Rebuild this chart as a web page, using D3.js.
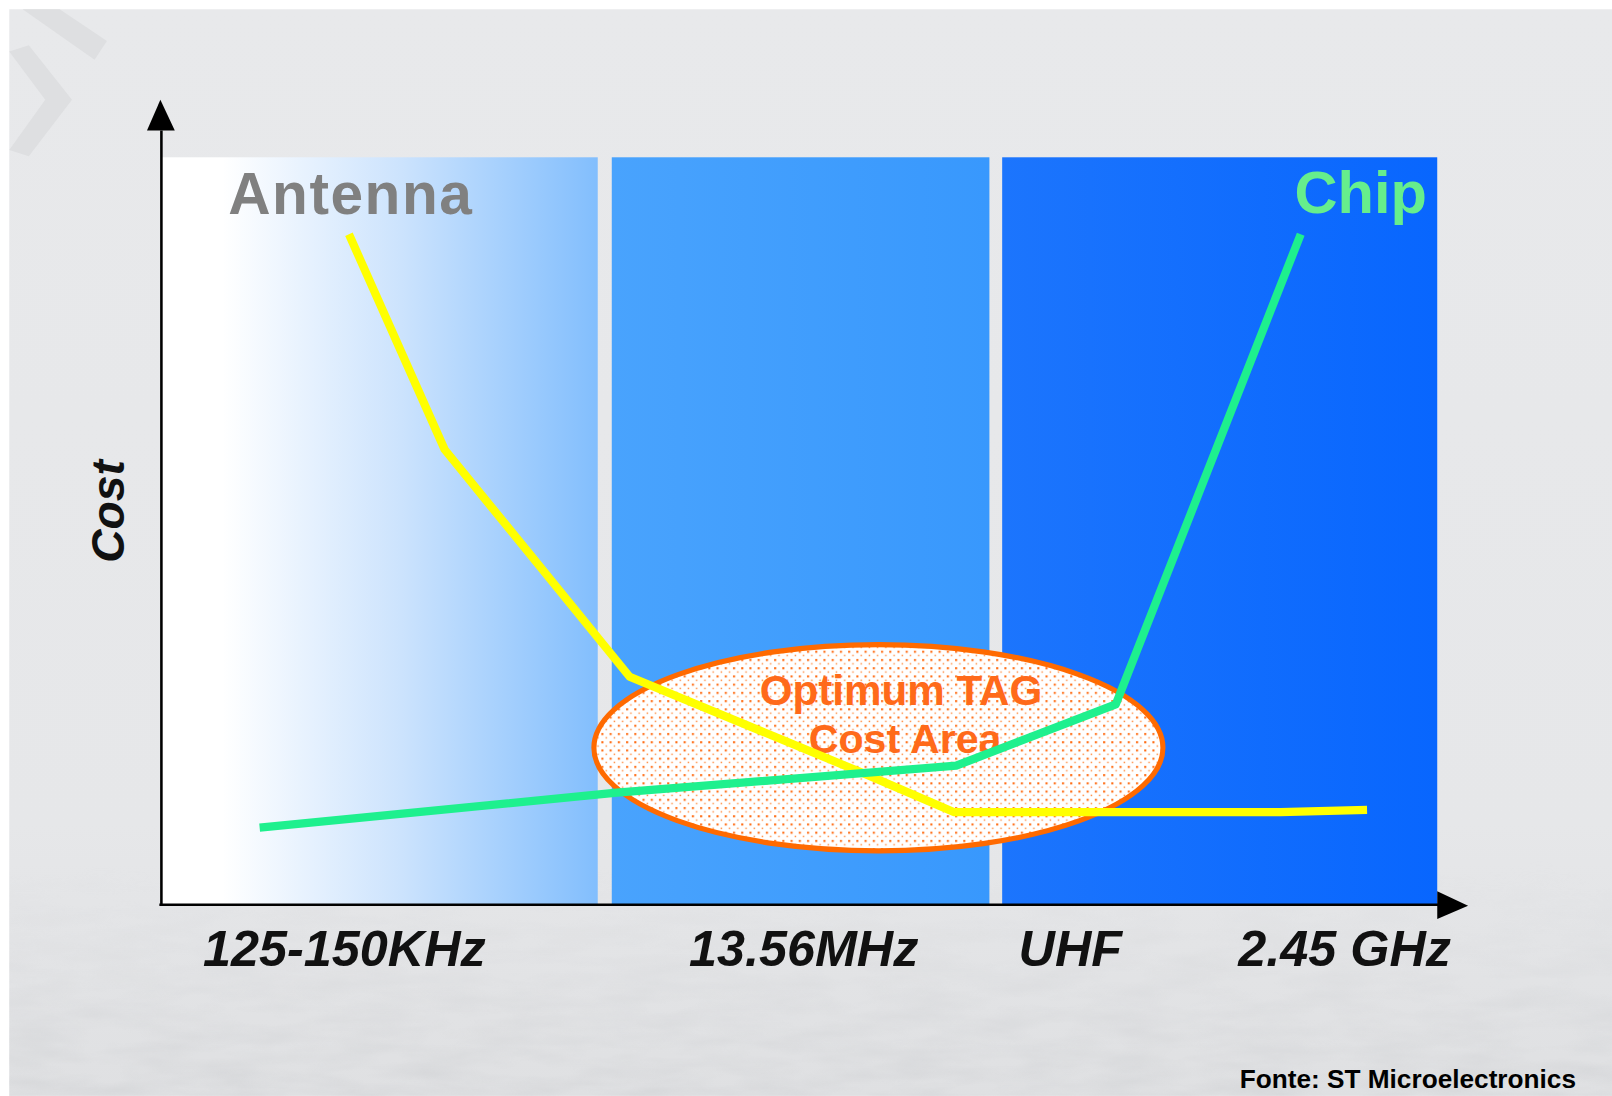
<!DOCTYPE html>
<html>
<head>
<meta charset="utf-8">
<script src="https://cdn.jsdelivr.net/npm/d3@7"></script>
<style>
  body { margin: 0; background: #ffffff; }
  text { font-family: "Liberation Sans", Arial, sans-serif; }
</style>
</head>
<body>
<script>
// frequency bands along x (0-100 scale), cost along y (0-100)
var bands = [
	{ name: "lf",  x0: 0,    x1: 34.2 },
	{ name: "hf",  x0: 35.3, x1: 64.9 },
	{ name: "uhf", x0: 65.9, x1: 100 }
];
var tickPos = [14.3, 50.3, 71.2, 92.7];
var tickLabels = ["125-150KHz", "13.56MHz", "UHF", "2.45 GHz"];

var antennaX = [14.7, 22.2, 36.7, 55.0, 62.1, 87.7, 94.5];
var antennaY = [89.7, 60.9, 30.5, 17.6, 12.4, 12.4, 12.7];
var chipX = [7.7, 35.7, 62.3, 74.8, 89.3];
var chipY = [10.3, 15.0, 18.6, 26.8, 89.7];

// optimum area: centre x, centre y, half width, half height (data units)
var optimum = [56.2, 21.0, 22.3, 13.8];

var width = 1612,
	height = 1096;

// layout was measured on a 1568 wide copy, so draw in those units and scale up
var w = 1568,
	h = 1066;

var svg = d3.select("body")
	.append("svg")
	.attr("width", width)
	.attr("height", height);

var defs = svg.append("defs");

var root = svg.append("g")
	.attr("transform", "scale(" + (width / w) + ")");

// background
var bg = defs.append("linearGradient").attr("id", "bg")
	.attr("x1", 0).attr("y1", 0).attr("x2", 0).attr("y2", 1);
bg.append("stop").attr("offset", "0%").attr("stop-color", "#e8e9eb");
bg.append("stop").attr("offset", "75%").attr("stop-color", "#e6e7e9");
bg.append("stop").attr("offset", "100%").attr("stop-color", "#dfe0e2");

var noise = defs.append("filter").attr("id", "noise")
	.attr("x", 0).attr("y", 0).attr("width", "100%").attr("height", "100%");
noise.append("feTurbulence").attr("type", "fractalNoise")
	.attr("baseFrequency", "0.015 0.06").attr("numOctaves", 3).attr("seed", 4);
noise.append("feColorMatrix").attr("type", "matrix")
	.attr("values", "0 0 0 0 0.6  0 0 0 0 0.61  0 0 0 0 0.63  0 0 0 -1.6 1.1");

var fade = defs.append("linearGradient").attr("id", "fade")
	.attr("x1", 0).attr("y1", 0).attr("x2", 0).attr("y2", 1);
fade.append("stop").attr("offset", "0%").attr("stop-color", "#fff").attr("stop-opacity", 0);
fade.append("stop").attr("offset", "100%").attr("stop-color", "#fff").attr("stop-opacity", 1);
defs.append("mask").attr("id", "fadeMask")
	.attr("maskUnits", "userSpaceOnUse")
	.append("rect").attr("x", 0).attr("y", 830).attr("width", w).attr("height", h - 830)
	.attr("fill", "url(#fade)");

root.append("rect")
	.attr("x", 9).attr("y", 9)
	.attr("width", w - 9).attr("height", h - 9)
	.attr("fill", "url(#bg)");

root.append("rect")
	.attr("x", 9).attr("y", 830)
	.attr("width", w - 9).attr("height", h - 830)
	.attr("filter", "url(#noise)")
	.attr("mask", "url(#fadeMask)")
	.attr("opacity", 0.45);

// faint logo shapes top left
root.append("polygon")
	.attr("points", "22,9 58,9 104,40 92,58")
	.attr("fill", "#dedfe1");
root.append("polygon")
	.attr("points", "9,50 28,44 70,97 28,152 9,146 44,97")
	.attr("fill", "#dedfe1");

var margin = { left: 157, right: 170, top: 153, bottom: 186 };

var x = d3.scaleLinear()
	.domain([0, 100])
	.range([margin.left, w - margin.right]);

var y = d3.scaleLinear()
	.domain([0, 100])
	.range([h - margin.bottom, margin.top]);

// band gradients
var gradStops = {
	lf:  [["0%", "#ffffff"], ["14%", "#ffffff"], ["55%", "#cce3fd"], ["100%", "#82befd"]],
	hf:  [["0%", "#49a3fd"], ["100%", "#3898fd"]],
	uhf: [["0%", "#1c75fd"], ["100%", "#0866fe"]]
};
bands.forEach(function (b) {
	var g = defs.append("linearGradient").attr("id", "band-" + b.name)
		.attr("x1", 0).attr("y1", 0).attr("x2", 1).attr("y2", 0);
	gradStops[b.name].forEach(function (s) {
		g.append("stop").attr("offset", s[0]).attr("stop-color", s[1]);
	});
});

root.selectAll(".band")
	.data(bands)
	.enter()
	.append("rect")
	.attr("class", "band")
	.attr("x", function (d) { return x(d.x0); })
	.attr("y", y(100))
	.attr("width", function (d) { return x(d.x1) - x(d.x0); })
	.attr("height", y(0) - y(100))
	.attr("fill", function (d) { return "url(#band-" + d.name + ")"; });

// dotted fill for the optimum area
var pat = defs.append("pattern").attr("id", "dots")
	.attr("patternUnits", "userSpaceOnUse")
	.attr("width", 8).attr("height", 8);
pat.append("rect").attr("width", 8).attr("height", 8).attr("fill", "#ffffff");
pat.append("rect").attr("x", 1).attr("y", 1).attr("width", 2).attr("height", 2).attr("fill", "#ff6a10");
pat.append("rect").attr("x", 5).attr("y", 5).attr("width", 1.4).attr("height", 1.4).attr("fill", "#ff8c40");

root.append("ellipse")
	.attr("cx", x(optimum[0]))
	.attr("cy", y(optimum[1]))
	.attr("rx", x(optimum[2]) - x(0))
	.attr("ry", y(0) - y(optimum[3]))
	.attr("fill", "url(#dots)")
	.attr("stroke", "#ff6a00")
	.attr("stroke-width", 5);

root.append("text")
	.attr("x", x(optimum[0]) + 22)
	.attr("y", y(optimum[1]) - 42)
	.attr("text-anchor", "middle")
	.attr("font-size", 41)
	.attr("font-weight", "bold")
	.attr("fill", "#ff6a1a")
	.text("Optimum TAG");
root.append("text")
	.attr("x", x(optimum[0]) + 26)
	.attr("y", y(optimum[1]) + 5)
	.attr("text-anchor", "middle")
	.attr("font-size", 40)
	.attr("font-weight", "bold")
	.attr("fill", "#ff6a1a")
	.text("Cost Area");

// cost curves
var line = d3.line()
	.x(function (d) { return x(d[0]); })
	.y(function (d) { return y(d[1]); });

var antenna = d3.zip(antennaX, antennaY);
var chip = d3.zip(chipX, chipY);

root.append("path")
	.datum(antenna)
	.attr("class", "antenna")
	.attr("d", line)
	.attr("fill", "none")
	.attr("stroke", "#ffff00")
	.attr("stroke-width", 8)
	.attr("stroke-linejoin", "round");

root.append("path")
	.datum(chip)
	.attr("class", "chip")
	.attr("d", line)
	.attr("fill", "none")
	.attr("stroke", "#1ef08e")
	.attr("stroke-width", 8)
	.attr("stroke-linejoin", "round");

// series labels
root.append("text")
	.attr("x", 222).attr("y", 208)
	.attr("font-size", 57)
	.attr("font-weight", "bold")
	.attr("letter-spacing", 1.5)
	.attr("fill", "#808080")
	.text("Antenna");

root.append("text")
	.attr("x", 1388).attr("y", 207)
	.attr("text-anchor", "end")
	.attr("font-size", 58)
	.attr("font-weight", "bold")
	.attr("fill", "#66ee8c")
	.text("Chip");

// axes
var xAxis = d3.axisBottom(x)
	.tickValues(tickPos)
	.tickFormat(function (d, i) { return tickLabels[i]; })
	.tickSize(0)
	.tickPadding(0);

var gx = root.append("g")
	.attr("transform", "translate(0," + y(0) + ")")
	.call(xAxis);
gx.select(".domain").remove();
gx.selectAll("text")
	.attr("dy", 0)
	.attr("y", 60)
	.attr("font-size", 49)
	.attr("font-weight", "bold")
	.attr("font-style", "italic")
	.attr("fill", "#111111")
	.style("font-family", "'Liberation Sans', Arial, sans-serif");

root.append("line")
	.attr("x1", x(0) - 2).attr("y1", y(0))
	.attr("x2", x(100) + 2).attr("y2", y(0))
	.attr("stroke", "#000").attr("stroke-width", 2.5);
root.append("polygon")
	.attr("points", [
		[x(100), y(0) - 13], [x(100) + 30, y(0) + 1], [x(100), y(0) + 14]
	].join(" "))
	.attr("fill", "#000");

root.append("line")
	.attr("x1", x(0)).attr("y1", y(0) + 1)
	.attr("x2", x(0)).attr("y2", y(100) - 26)
	.attr("stroke", "#000").attr("stroke-width", 2.5);
root.append("polygon")
	.attr("points", [
		[x(0) - 14, y(100) - 26], [x(0) - 1, y(100) - 56], [x(0) + 13, y(100) - 26]
	].join(" "))
	.attr("fill", "#000");

root.append("text")
	.attr("transform", "translate(121," + (y(50) - 19) + ") rotate(-90)")
	.attr("text-anchor", "middle")
	.attr("font-size", 45)
	.attr("font-weight", "bold")
	.attr("font-style", "italic")
	.attr("fill", "#111111")
	.text("Cost");

root.append("text")
	.attr("x", 1533).attr("y", 1058)
	.attr("text-anchor", "end")
	.attr("font-size", 25.5)
	.attr("font-weight", "bold")
	.attr("fill", "#000")
	.text("Fonte: ST Microelectronics");
</script>
</body>
</html>
